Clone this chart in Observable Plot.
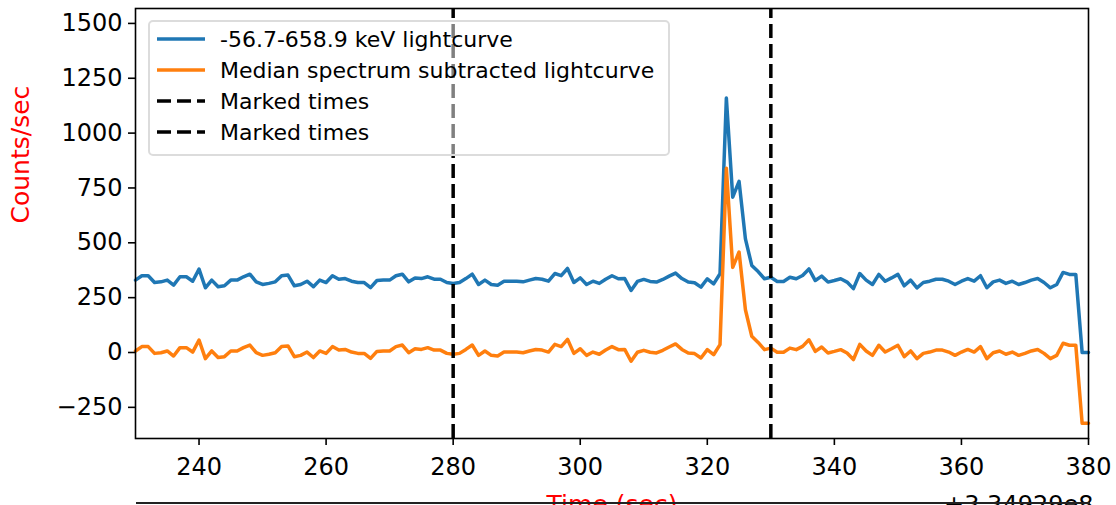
<!DOCTYPE html>
<html>
<head>
<meta charset="utf-8">
<script src="https://cdn.jsdelivr.net/npm/d3@7"></script>
<script src="https://cdn.jsdelivr.net/npm/@observablehq/plot@0.6"></script>
<style>
  html, body { margin: 0; padding: 0; background: white; }
  #wrap { position: relative; width: 1116px; height: 505px; overflow: hidden; font-family: "DejaVu Sans", sans-serif; }
  #legend { position: absolute; left: 148px; top: 20px; width: 518px; height: 132px; border: 2px solid #dcdcdc; border-radius: 5px; background: rgba(255,255,255,0.5); }
  .row { position: absolute; left: 0; height: 30px; display: flex; align-items: center; font-size: 22px; color: black; white-space: nowrap; }
  .row svg { margin-left: 5px; margin-right: 15px; }
  #sep { position: absolute; left: 136px; top: 502px; width: 954px; border-top: 2px solid #222; }
</style>
</head>
<body>
<div id="wrap"></div>
<script>
const time = [230,231,232,233,234,235,236,237,238,239,240,241,242,243,244,245,246,247,248,249,
  250,251,252,253,254,255,256,257,258,259,260,261,262,263,264,265,266,267,268,269,
  270,271,272,273,274,275,276,277,278,279,280,281,282,283,284,285,286,287,288,289,
  290,291,292,293,294,295,296,297,298,299,300,301,302,303,304,305,306,307,308,309,
  310,311,312,313,314,315,316,317,318,319,320,321,322,323,324,325,326,327,328,329,
  330,331,332,333,334,335,336,337,338,339,340,341,342,343,344,345,346,347,348,349,
  350,351,352,353,354,355,356,357,358,359,360,361,362,363,364,365,366,367,368,369,
  370,371,372,373,374,375,376,377,378,379,380];
const fullBand = [330,350,350,319,322,330,307,345,345,325,380,295,330,300,304,330,330,345,357,322,
  310,315,322,350,353,304,310,325,300,330,319,350,334,337,325,319,319,296,328,330,
  330,350,357,322,340,337,345,334,334,319,315,319,337,357,310,330,310,307,325,325,
  325,322,330,337,334,325,360,350,383,319,340,310,325,315,334,350,336,337,283,324,
  333,324,321,333,348,362,337,321,318,298,336,313,359,1160,708,780,518,397,369,336,
  343,324,324,343,336,351,381,328,348,321,328,336,321,291,360,330,310,356,325,340,
  356,304,330,295,319,325,334,334,325,310,325,337,325,350,295,322,330,315,325,310,
  319,330,337,319,295,310,365,356,356,0,0];
const medianSub = [7,27,27,-4,-1,7,-16,22,22,2,57,-28,7,-23,-19,7,7,22,34,-1,
  -13,-8,-1,27,30,-19,-13,2,-23,7,-4,27,11,14,2,-4,-4,-27,5,7,
  7,27,34,-1,17,14,22,11,11,-4,-8,-4,14,34,-13,7,-13,-16,2,2,
  2,-1,7,14,11,2,37,27,60,-4,17,-13,2,-8,11,27,13,14,-40,1,
  10,1,-2,10,25,39,14,-2,-5,-25,13,-10,36,840,388,458,195,74,46,13,
  20,1,1,20,13,28,58,5,25,-2,5,13,-2,-32,37,7,-13,33,2,17,
  33,-19,7,-28,-4,2,11,11,2,-13,2,14,2,27,-28,-1,7,-8,2,-13,
  -4,7,14,-4,-28,-13,42,33,33,-323,-323];
const markedTimes = [280, 330];
const xTicks = [240, 260, 280, 300, 320, 340, 360, 380];
const yTicks = [-250, 0, 250, 500, 750, 1000, 1250, 1500];
const seriesNames = ["-56.7-658.9 keV lightcurve", "Median spectrum subtracted lightcurve", "Marked times", "Marked times"];
const seriesColors = ["#1f77b4", "#ff7f0e", "black", "black"];
const xDomain = [230, 380];
const yDomain = [-392, 1568];

const blueData = time.map((t, i) => ({t, v: fullBand[i]}));
const orangeData = time.map((t, i) => ({t, v: medianSub[i]}));

const fmt = d => d < 0 ? "\u2212" + Math.abs(d) : String(d);

const chart = Plot.plot({
  width: 1116,
  height: 505,
  marginLeft: 135,
  marginRight: 28,
  marginTop: 8,
  marginBottom: 67,
  style: {fontFamily: "DejaVu Sans", fontSize: "24px", background: "white", color: "black", overflow: "hidden"},
  x: {domain: xDomain},
  y: {domain: yDomain},
  marks: [
    Plot.line(blueData, {x: "t", y: "v", stroke: seriesColors[0], strokeWidth: 3.5, strokeLinejoin: "round"}),
    Plot.line(orangeData, {x: "t", y: "v", stroke: seriesColors[1], strokeWidth: 3.5, strokeLinejoin: "round"}),
    Plot.ruleX(markedTimes, {x: d => d, y1: yDomain[0], y2: yDomain[1], stroke: "black", strokeWidth: 3.5, strokeDasharray: "14,6"}),
    Plot.frame({stroke: "black", strokeWidth: 1.6}),
    Plot.axisX({ticks: xTicks, tickFormat: fmt, tickSize: 7, tickPadding: 12, label: null, strokeWidth: 1.6}),
    Plot.axisY({ticks: yTicks, tickFormat: fmt, tickSize: 7, tickPadding: 6, label: null, strokeWidth: 1.6}),
    Plot.text(["Counts/sec"], {frameAnchor: "left", dx: -115, rotate: -90, fill: "red", fontSize: 25, text: d => d}),
    Plot.text(["Time (sec)"], {frameAnchor: "bottom", dy: 74, fill: "red", fontSize: 25, text: d => d, lineAnchor: "bottom"}),
    Plot.text(["+3.34929e8"], {frameAnchor: "bottom-right", dx: 5, dy: 74, textAnchor: "end", fontSize: 24, text: d => d, lineAnchor: "bottom"})
  ]
});

const wrap = document.getElementById("wrap");
wrap.appendChild(chart);

const sep = document.createElement("div");
sep.id = "sep";
wrap.appendChild(sep);

const legend = document.createElement("div");
legend.id = "legend";
seriesNames.forEach((name, i) => {
  const row = document.createElement("div");
  row.className = "row";
  row.style.top = (2 + i * 31) + "px";
  const dashed = i >= 2;
  row.innerHTML = `<svg width="50" height="10"><line x1="2" y1="5" x2="50" y2="5" stroke="${seriesColors[i]}" stroke-width="3.5" ${dashed ? 'stroke-dasharray="14,6"' : ''}/></svg><span>${name}</span>`;
  legend.appendChild(row);
});
wrap.appendChild(legend);
</script>
</body>
</html>
